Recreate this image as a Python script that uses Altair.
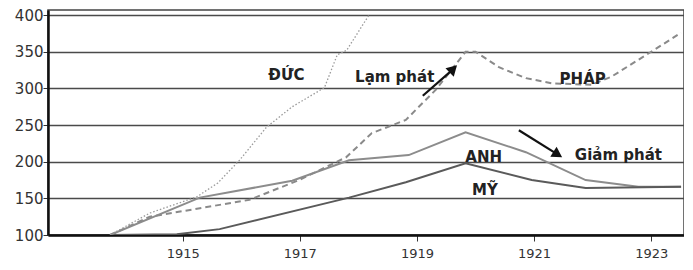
import altair as alt
import pandas as pd

# ---- data ----
duc_years = [1913.76, 1914.44, 1915.24, 1915.6, 1915.97, 1916.43, 1916.87, 1917.42, 1917.64, 1917.8, 1918.18]
duc_vals = [100, 130, 152, 171, 202, 247, 275, 301, 346, 352, 400]

phap_years = [1913.76, 1914.44, 1916.14, 1916.99, 1917.79, 1918.23, 1918.81, 1919.32, 1919.83, 1920.0,
              1920.4, 1920.86, 1921.3, 1921.98, 1922.32, 1923.0, 1923.51]
phap_vals = [100, 125, 148, 175, 206, 239, 257, 298, 350, 350, 329, 314, 307, 305, 316, 350, 376]

anh_years = [1913.76, 1915.29, 1916.87, 1917.84, 1918.86, 1919.83, 1920.86, 1921.88, 1922.78, 1923.51]
anh_vals = [100, 151, 174, 202, 209, 240, 213, 175, 166, 166]

my_years = [1913.76, 1914.9, 1915.63, 1917.84, 1918.81, 1919.83, 1920.96, 1921.88, 1923.51]
my_vals = [100, 101, 108, 151, 172, 198, 175, 164, 166]

label_texts = ["ĐỨC", "Lạm phát", "PHÁP", "ANH", "MỸ", "Giảm phát"]
label_x = [1916.77, 1918.62, 1921.83, 1920.14, 1920.16, 1922.44]
label_y = [318, 316, 313, 206, 161, 209]

arrow_ids = ["lam", "lam", "giam", "giam"]
arrow_x = [1919.1, 1919.6, 1920.74, 1921.38]
arrow_y = [290, 325, 243, 211]
head_x = [1919.6, 1921.38]
head_y = [325, 211]
head_angle = [46, 122]

x_ticks = [1915, 1917, 1919, 1921, 1923]
y_ticks = [100, 150, 200, 250, 300, 350, 400]

# ---- encodings ----
xenc = alt.X("year:Q",
             scale=alt.Scale(domain=[1912.7, 1923.56], nice=False, zero=False),
             axis=alt.Axis(values=x_ticks, format="d", title=None, grid=False,
                           domainColor="#111", domainWidth=2.5,
                           tickColor="#333", tickSize=6, tickWidth=1,
                           labelFont="DejaVu Sans", labelFontSize=13, labelColor="#333",
                           labelPadding=6))
yenc = alt.Y("value:Q",
             scale=alt.Scale(domain=[100, 407], nice=False, zero=False),
             axis=alt.Axis(values=y_ticks, title=None, grid=True,
                           gridColor="#4a4a4a", gridWidth=1.6,
                           domainColor="#111", domainWidth=2.5,
                           tickColor="#333", tickSize=5, tickWidth=1,
                           labelFont="DejaVu Sans", labelFontSize=15, labelColor="#333",
                           labelPadding=0))


def series(years, vals, color, width, dash=None):
    df = pd.DataFrame({"year": years, "value": vals})
    kw = dict(color=color, strokeWidth=width, clip=True)
    if dash:
        kw["strokeDash"] = dash
    return alt.Chart(df).mark_line(**kw).encode(x=xenc, y=yenc)


duc = series(duc_years, duc_vals, "#9a9a9a", 1.3, [1.5, 2])
phap = series(phap_years, phap_vals, "#8a8a8a", 2, [6, 4])
anh = series(anh_years, anh_vals, "#8c8c8c", 2)
my = series(my_years, my_vals, "#5a5a5a", 2)

labels_df = pd.DataFrame({"year": label_x, "value": label_y, "text": label_texts})
labels = alt.Chart(labels_df).mark_text(
    font="DejaVu Sans", fontSize=15, fontWeight="bold", color="#222"
).encode(x=xenc, y=yenc, text="text:N")

arrows_df = pd.DataFrame({"year": arrow_x, "value": arrow_y, "id": arrow_ids})
shafts = alt.Chart(arrows_df).mark_line(color="#111", strokeWidth=2.2).encode(
    x=xenc, y=yenc, detail="id:N")

heads_df = pd.DataFrame({"year": head_x, "value": head_y, "angle": head_angle})
heads = alt.Chart(heads_df).mark_point(
    shape="triangle", filled=True, color="#111", size=140, opacity=1
).encode(x=xenc, y=yenc, angle=alt.Angle("angle:Q", scale=None))

chart = alt.layer(anh, my, phap, duc, shafts, heads, labels).properties(
    width=636, height=225,
    autosize=alt.AutoSizeParams(type="none"),
    padding={"left": 40, "top": 2, "right": 0, "bottom": 27},
    background="white",
).configure_view(stroke="#444", strokeWidth=1.5)

chart.save("out.html", embed_options={"renderer": "svg", "actions": False})
